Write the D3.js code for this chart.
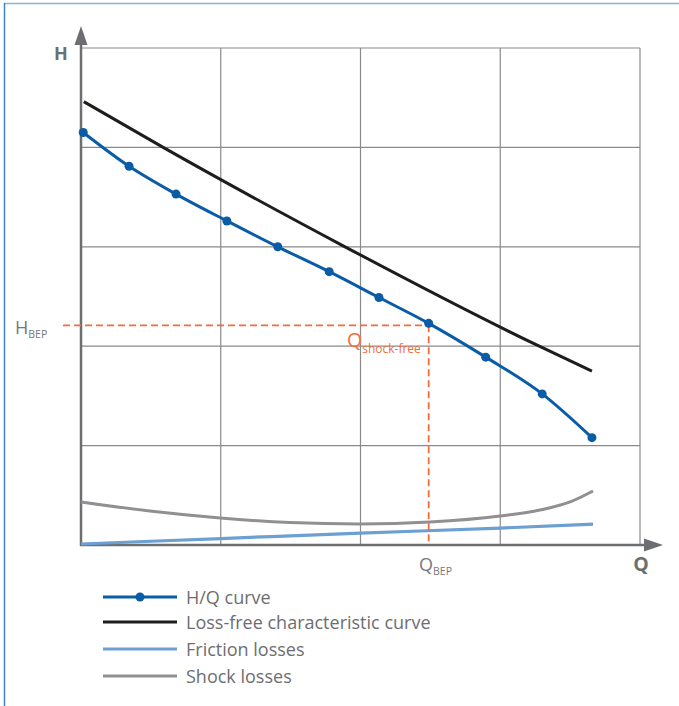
<!DOCTYPE html>
<html><head><meta charset="utf-8">
<script src="https://cdn.jsdelivr.net/npm/d3@7"></script>
<style>
html,body{margin:0;padding:0;background:#fff;}
svg{display:block;font-family:"Open Sans","Noto Sans",sans-serif;}
</style></head>
<body><svg id="c" width="679" height="706"></svg>
<script>
// ---- data (Q in % of grid range 0..100, H in units 0..50) ----
const hqQ = [0.4, 8.6, 17, 26.1, 35.2, 44.4, 53.3, 62.2, 72.4, 82.5, 91.4];
const hqH = [41.5, 38.1, 35.3, 32.6, 30.0, 27.5, 24.9, 22.3, 18.9, 15.2, 10.8];
const lossFreeQ = [0.5, 14.7, 46.9, 81.6, 91.4];
const lossFreeH = [44.6, 40.0, 30.1, 20.1, 17.5];
const frictionQ = [0, 25, 50, 75, 91.6];
const frictionH = [0.1, 0.65, 1.2, 1.7, 2.1];
const shockQ = [0, 12.3, 24.9, 37.4, 49.9, 62.4, 75.0, 82.1, 87.5, 91.6];
const shockH = [4.33, 3.42, 2.72, 2.26, 2.11, 2.31, 2.92, 3.52, 4.33, 5.43];
const bepQ = 62.2, bepH = 22.1;
const xTicks = [0, 25, 50, 75, 100];
const yTicks = [0, 10, 20, 30, 40, 50];
const legendLabels = ["H/Q curve", "Loss-free characteristic curve", "Friction losses", "Shock losses"];

const svg = d3.select("#c");
const x = d3.scaleLinear().domain([0, 100]).range([81, 640]);
const y = d3.scaleLinear().domain([0, 50]).range([545, 48]);
const grey = "#6d6e71";

// frame border
svg.append("line").attr("x1",4).attr("x2",679).attr("y1",3.5).attr("y2",3.5).attr("stroke","#86b2dc").attr("stroke-width",1.5);
svg.append("line").attr("x1",4.5).attr("x2",4.5).attr("y1",3).attr("y2",706).attr("stroke","#3f86c8").attr("stroke-width",1.5);

// grid
const g = svg.append("g");
g.selectAll("line.v").data(xTicks.slice(1)).join("line")
  .attr("x1", d=>x(d)).attr("x2", d=>x(d)).attr("y1", y(50)).attr("y2", y(0))
  .attr("stroke","#8a8a8c").attr("stroke-width",1.2);
g.selectAll("line.h").data(yTicks.slice(1)).join("line")
  .attr("x1", x(0)).attr("x2", x(100)).attr("y1", d=>y(d)).attr("y2", d=>y(d))
  .attr("stroke","#8a8a8c").attr("stroke-width",1.2);

// axes with arrows
svg.append("line").attr("x1",x(0)).attr("x2",x(0)).attr("y1",y(0)+1).attr("y2",40).attr("stroke",grey).attr("stroke-width",2.5);
svg.append("path").attr("d","M81,26 L74.5,45 L87.5,45 Z").attr("fill",grey);
svg.append("line").attr("x1",x(0)-1).attr("x2",650).attr("y1",y(0)).attr("y2",y(0)).attr("stroke",grey).attr("stroke-width",2.5);
svg.append("path").attr("d","M663,545 L644,538.5 L644,551.5 Z").attr("fill",grey);

svg.append("text").attr("x",61).attr("y",59.5).attr("text-anchor","middle").attr("font-size",18).attr("font-weight","bold").attr("fill",grey).text("H");
svg.append("text").attr("x",641).attr("y",571).attr("text-anchor","middle").attr("font-size",19.5).attr("font-weight","bold").attr("fill",grey).text("Q");

const line = (qs, hs, curve) => d3.line().x(d=>x(d[0])).y(d=>y(d[1])).curve(curve)(qs.map((q,i)=>[q,hs[i]]));

// shock & friction
svg.append("path").attr("d", line(shockQ, shockH, d3.curveMonotoneX)).attr("fill","none").attr("stroke","#909092").attr("stroke-width",3);
svg.append("path").attr("d", line(frictionQ, frictionH, d3.curveMonotoneX)).attr("fill","none").attr("stroke","#6c9fd2").attr("stroke-width",3.2);

// BEP dashed
const orange = "#f26c3c";
svg.append("line").attr("x1",63).attr("x2",x(bepQ)).attr("y1",y(bepH)).attr("y2",y(bepH)).attr("stroke",orange).attr("stroke-width",1.8).attr("stroke-dasharray","7,4");
svg.append("line").attr("x1",x(bepQ)).attr("x2",x(bepQ)).attr("y1",y(bepH)).attr("y2",y(0)).attr("stroke",orange).attr("stroke-width",1.8).attr("stroke-dasharray","7,4");

// loss-free
svg.append("path").attr("d", line(lossFreeQ, lossFreeH, d3.curveMonotoneX)).attr("fill","none").attr("stroke","#1d1d1b").attr("stroke-width",3);
// H/Q
const blue = "#0a5ca6";
svg.append("path").attr("d", line(hqQ, hqH, d3.curveMonotoneX)).attr("fill","none").attr("stroke",blue).attr("stroke-width",3);
svg.selectAll("circle.hq").data(hqQ.map((q,i)=>[q,hqH[i]])).join("circle")
  .attr("cx", d=>x(d[0])).attr("cy", d=>y(d[1])).attr("r",4.5).attr("fill",blue);

// labels
const hb = svg.append("text").attr("x",15).attr("y",334).attr("fill","#77787b").attr("font-size",18);
hb.append("tspan").text("H");
hb.append("tspan").attr("font-size",10.5).attr("dy",4).text("BEP");
const qb = svg.append("text").attr("x",419).attr("y",571).attr("fill","#77787b").attr("font-size",18);
qb.append("tspan").text("Q");
qb.append("tspan").attr("font-size",10.5).attr("dy",4).text("BEP");
const qs = svg.append("text").attr("x",347).attr("y",347).attr("fill",orange).attr("font-size",19.5);
qs.append("tspan").text("Q");
qs.append("tspan").attr("font-size",12).attr("dy",6).attr("dx",0).text("shock-free");

// legend
const legColors = [blue, "#1d1d1b", "#6c9fd2", "#909092"];
const legY = [597, 622, 649, 676];
legendLabels.forEach((t,i)=>{
  svg.append("line").attr("x1",103).attr("x2",177).attr("y1",legY[i]).attr("y2",legY[i]).attr("stroke",legColors[i]).attr("stroke-width",3);
  if(i===0) svg.append("circle").attr("cx",140).attr("cy",legY[i]).attr("r",4.5).attr("fill",blue);
  svg.append("text").attr("x",186).attr("y",legY[i]+6.5).attr("font-size",18).attr("fill","#6d6e71").text(t);
});
</script></body></html>
